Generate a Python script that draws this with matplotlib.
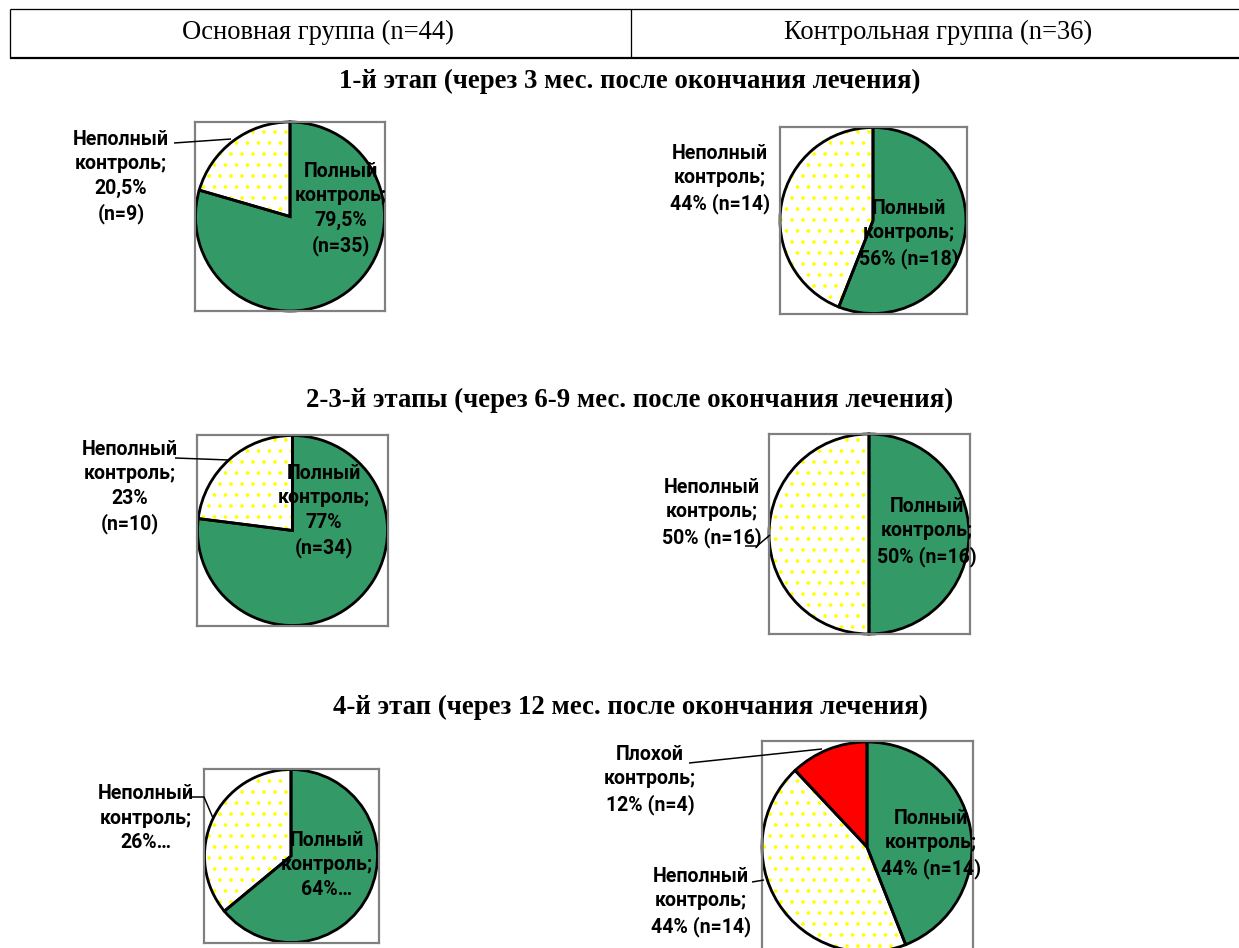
import matplotlib
matplotlib.use("Agg")
import matplotlib.pyplot as plt
from matplotlib.lines import Line2D

# ---------------- data ----------------
group_titles = ["Основная группа (n=44)", "Контрольная группа (n=36)"]
stage_titles = [
    "1-й этап (через 3 мес. после окончания лечения)",
    "2-3-й этапы (через 6-9 мес. после окончания лечения)",
    "4-й этап (через 12 мес. после окончания лечения)",
]
categories = ["Полный контроль", "Неполный контроль", "Плохой контроль"]

main_values = [[79.5, 20.5], [77, 23], [64, 36]]
control_values = [[56, 44], [50, 50], [44, 44, 12]]

main_labels = [
    ["Полный\nконтроль;\n79,5%\n(n=35)", "Неполный\nконтроль;\n20,5%\n(n=9)"],
    ["Полный\nконтроль;\n77%\n(n=34)", "Неполный\nконтроль;\n23%\n(n=10)"],
    ["Полный\nконтроль;\n64%…", "Неполный\nконтроль;\n26%…"],
]
control_labels = [
    ["Полный\nконтроль;\n56% (n=18)", "Неполный\nконтроль;\n44% (n=14)"],
    ["Полный\nконтроль;\n50% (n=16)", "Неполный\nконтроль;\n50% (n=16)"],
    ["Полный\nконтроль;\n44% (n=14)", "Неполный\nконтроль;\n44% (n=14)",
     "Плохой\nконтроль;\n12% (n=4)"],
]

# ---------------- styling / layout ----------------
W, H, DPI = 1239, 948, 66
GREEN = "#339966"
RED = "#FF0000"
YELLOW = "#FFFF00"
FRAME = "#808080"

plt.rcParams["hatch.color"] = YELLOW
plt.rcParams["hatch.linewidth"] = 1.6


def pt(px):
    return px * 72.0 / DPI


fig = plt.figure(figsize=(W / DPI, H / DPI), dpi=DPI)
fig.patch.set_facecolor("white")


def fx(x):
    return x / W


def fy(y):
    return 1 - y / H


def fline(xs, ys, lw=1.0, color="black"):
    fig.add_artist(Line2D([fx(x) for x in xs], [fy(y) for y in ys],
                          transform=fig.transFigure, color=color,
                          linewidth=pt(lw), solid_capstyle="butt"))


# header table
fline([10, 1239], [9, 9], lw=1.3)
fline([10, 1239], [58, 58], lw=2.2)
fline([10, 10], [9, 58], lw=1.3)
fline([631, 631], [9, 58], lw=1.3)
serif = ["Liberation Serif", "DejaVu Serif"]
fig.text(fx(318), fy(32), group_titles[0], ha="center", va="center",
         family=serif, fontsize=pt(26.5))
fig.text(fx(938), fy(32), group_titles[1], ha="center", va="center",
         family=serif, fontsize=pt(26.5))

for y, t in zip([81, 400, 707], stage_titles):
    fig.text(fx(630), fy(y), t, ha="center", va="center", family=serif,
             fontsize=pt(26.8), fontweight="bold")

# pies: box (x0, y0, x1, y1), centre (cx, cy), radius r
pie_geo = [
    [((195, 122, 385, 311), (290, 216.5), 94.5), ((780, 127, 967, 314), (873, 220.5), 93)],
    [((197, 435, 388, 626), (292.5, 530.5), 95), ((769, 434, 970, 634), (869, 534), 100)],
    [((204, 769, 379, 943), (291, 856), 86.5), ((762, 741, 973, 958), (867, 847), 105)],
]

label_pos = [
    [[(341, 209), (121, 177)], [(909, 234), (720, 179)]],
    [[(324, 511), (130, 487)], [(927, 532), (712, 513)]],
    [[(327, 865), (146, 818)], [(931, 844), (701, 902), (650, 780)]],
]
leaders = [
    [[((174, 143), (231, 139))], []],
    [[((175, 458), (229, 460))], [((745, 546), (757, 546), (770, 535))]],
    [[((192, 797), (204, 797), (213, 818))],
     [((752, 882), (764, 880)), ((689, 763), (822, 749))]],
]

slice_colors = [GREEN, "white", RED]
slice_hatch = [None, ".", None]
lab_font = ["Roboto", "DejaVu Sans"]

for row in range(3):
    for col, vals_all, labs_all in [(0, main_values, main_labels),
                                    (1, control_values, control_labels)]:
        vals = vals_all[row]
        labs = labs_all[row]
        (x0, y0, x1, y1), (cx, cy), r = pie_geo[row][col]
        ax = fig.add_axes([fx(x0), fy(y1), (x1 - x0) / W, (y1 - y0) / H])
        n = len(vals)
        # fill layer
        w1, _ = ax.pie(vals, radius=r, startangle=90, counterclock=False,
                       colors=slice_colors[:n],
                       wedgeprops=dict(linewidth=0))
        for i, w in enumerate(w1):
            if slice_hatch[i]:
                w.set_hatch(slice_hatch[i])
                w.set_edgecolor(YELLOW)
                try:
                    w.set_hatchcolor(YELLOW)
                except Exception:
                    pass
        # outline layer
        ax.pie(vals, radius=r, startangle=90, counterclock=False,
               wedgeprops=dict(facecolor="none", edgecolor="black",
                               linewidth=pt(2.8)))
        ax.set_aspect("auto")
        ax.set_xlim(x0 - cx, x1 - cx)
        ax.set_ylim(cy - y1, cy - y0)
        ax.set_frame_on(True)
        for s in ax.spines.values():
            s.set_visible(True)
            s.set_color(FRAME)
            s.set_linewidth(pt(2.2))
        ax.set_xticks([])
        ax.set_yticks([])

        for lab, (lx, ly) in zip(labs, label_pos[row][col]):
            fig.text(fx(lx), fy(ly), lab, ha="center", va="center",
                     family=lab_font, fontweight="bold", fontsize=pt(19.5),
                     linespacing=1.37, zorder=10)
        for ln in leaders[row][col]:
            fline([p[0] for p in ln], [p[1] for p in ln], lw=1.5)

fig.savefig("out.png", dpi=DPI, facecolor="white")
